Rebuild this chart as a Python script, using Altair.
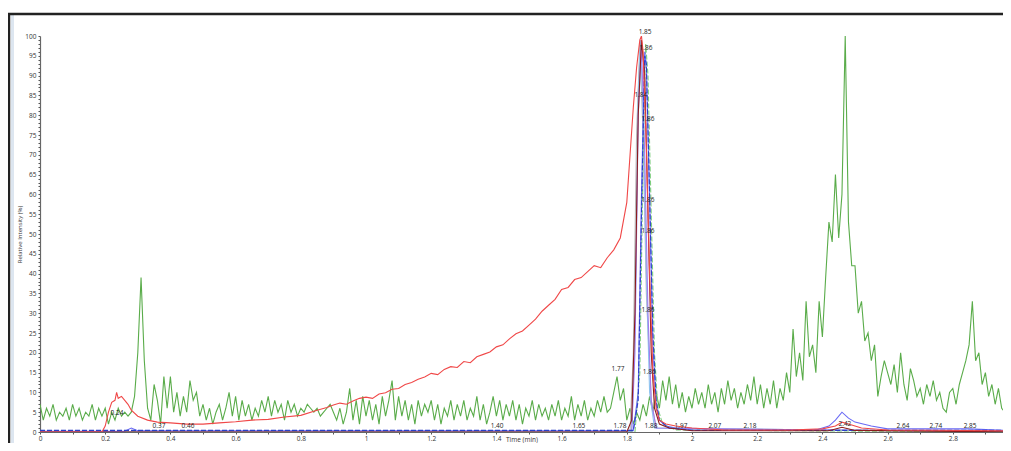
import altair as alt
import pandas as pd

# ---------------- data ----------------
# noisy green trace, sampled every 0.01 min from 0.00
green_y = [
    7, 3, 6, 4, 7, 3, 5, 4, 6, 3, 7, 4, 6, 3, 5, 4, 7, 3, 6, 4,      # 0.00-0.19
    6, 2, 5, 3, 6, 4, 5, 4, 5, 9, 20, 39, 18, 6, 3, 12, 8, 2, 14, 6,  # 0.20-0.39
    14, 5, 10, 4, 9, 5, 13, 8, 10, 4, 7, 3, 6, 2, 5, 7, 3, 6, 10, 4,  # 0.40-0.59
    9, 3, 8, 4, 7, 3, 6, 4, 8, 5, 9, 4, 8, 5, 7, 3, 8, 5, 7, 4,       # 0.60-0.79
    6, 5, 7, 6, 5, 6, 4, 5, 6, 7, 5, 3, 6, 2, 5, 11, 3, 8, 2, 9,      # 0.80-0.99
    4, 8, 3, 7, 2, 9, 4, 8, 13, 3, 9, 4, 8, 3, 7, 2, 8, 4, 7, 5,      # 1.00-1.19
    8, 3, 7, 2, 6, 4, 8, 3, 7, 4, 8, 3, 6, 4, 9, 3, 7, 2, 5, 9,       # 1.20-1.39
    4, 8, 3, 7, 4, 8, 3, 7, 2, 6, 4, 8, 3, 7, 4, 6, 3, 7, 4, 8,       # 1.40-1.59
    3, 6, 4, 9, 3, 7, 4, 8, 3, 6, 4, 8, 5, 9, 5, 6, 10, 14, 8, 11,    # 1.60-1.79
    3, 6, 2, 5, 3, 7, 4, 9, 5, 10, 6, 13, 8, 14, 7, 12, 6, 10, 5, 9,  # 1.80-1.99
    6, 11, 7, 10, 6, 12, 7, 10, 5, 11, 7, 13, 8, 11, 6, 10, 7, 12, 8, 14,   # 2.00-2.19
    7, 12, 6, 11, 7, 13, 6, 11, 8, 15, 10, 26, 14, 20, 13, 33, 19, 22, 15, 33,  # 2.20-2.39
    24, 39, 53, 48, 65, 49, 60, 100, 53, 42, 42, 30, 33, 23, 25, 18, 22, 9, 14, 18,  # 2.40-2.59
    15, 12, 17, 10, 20, 12, 8, 16, 13, 9, 11, 7, 12, 9, 13, 8, 10, 6, 5, 10,  # 2.60-2.79
    11, 7, 12, 15, 18, 22, 33, 18, 20, 12, 15, 9, 12, 7, 11, 6, 5, 6,  # 2.80-2.97
]
green_t = [round(i * 0.01, 2) for i in range(len(green_y))]

red_t = [0, 0.19, 0.20, 0.21, 0.22, 0.23, 0.235, 0.24, 0.25, 0.26, 0.27, 0.28, 0.30, 0.33,
         0.36, 0.40, 0.45, 0.50, 0.55, 0.60, 0.65, 0.70, 0.75, 0.80, 0.85, 0.88,
         0.90, 0.92, 0.94, 0.96, 0.98, 1.00, 1.02, 1.04, 1.06, 1.08, 1.10, 1.12, 1.14, 1.16,
         1.18, 1.20, 1.22, 1.24, 1.26, 1.28, 1.30, 1.32, 1.34, 1.36, 1.38, 1.40, 1.42, 1.44,
         1.46, 1.48, 1.50, 1.52, 1.54, 1.56, 1.58, 1.60, 1.62, 1.64, 1.66, 1.68, 1.70, 1.72,
         1.74, 1.76, 1.78, 1.80, 1.81, 1.82, 1.83, 1.84, 1.845, 1.85, 1.86,
         1.87, 1.88, 1.89, 1.90, 1.92, 1.95, 2.0, 2.1, 2.3, 2.4, 2.44, 2.46, 2.48, 2.52, 2.6, 2.98]
red_y = [0, 0, 1.5, 5, 7.5, 8, 10, 8.5, 9, 8, 7, 5.5, 4, 3,
         2.5, 2.3, 2.0, 2.0, 2.3, 2.6, 3, 3.2, 3.8, 4.2, 5.5, 6.2,
         6.8, 7.3, 7.0, 7.8, 8.5, 8.8, 8.5, 9.6, 9.9, 10.8, 11.0, 12.0, 12.5, 13.3,
         13.9, 14.8, 14.5, 15.8, 16.5, 16.3, 17.8, 17.5, 19.0, 19.6, 20.2, 21.5, 22.0, 23.5,
         24.8, 25.5, 27.0, 28.5, 30.5, 32.0, 33.5, 36.0, 36.5, 38.5, 39.0, 40.5, 42.0, 41.5,
         44.0, 46.0, 49.0, 58, 70, 82, 92, 99, 100, 96, 72,
         40, 15, 6, 3, 2, 1.5, 1, 0.5, 0.5, 0.8, 1.5, 2.5, 2.0, 1, 0.5, 0.3]

darkred_t = [0, 1.80, 1.815, 1.825, 1.835, 1.845, 1.855, 1.865, 1.875, 1.885, 1.90, 1.93, 2.0, 2.42, 2.46, 2.50, 2.98]
darkred_y = [0, 0, 3, 30, 80, 99, 90, 55, 20, 6, 2, 1, 0.3, 0.3, 1.2, 0.4, 0]

blue_t = [0, 0.26, 0.28, 0.30, 1.82, 1.835, 1.845, 1.855, 1.86, 1.87, 1.88, 1.89, 1.90, 1.92, 1.95, 2.0,
          2.38, 2.42, 2.44, 2.46, 2.48, 2.50, 2.55, 2.6, 2.7, 2.85, 2.98]
blue_y = [0.2, 0.2, 1, 0.3, 0.3, 10, 60, 96, 92, 58, 22, 7, 3, 1.5, 1, 0.5,
          0.5, 1.5, 3, 5, 3.5, 2.5, 1.5, 0.8, 0.8, 0.8, 0.3]

bluedash_t = [0, 1.82, 1.835, 1.845, 1.855, 1.86, 1.87, 1.88, 1.89, 1.90, 1.93, 2.0, 2.98]
bluedash_y = [0.4, 0.4, 8, 55, 95, 93, 60, 25, 8, 3, 1, 0.4, 0.4]

greendash_t = [0, 1.825, 1.84, 1.85, 1.858, 1.865, 1.875, 1.885, 1.895, 1.91, 1.95, 2.98]
greendash_y = [0, 0, 15, 70, 98, 90, 55, 20, 6, 2, 0.5, 0]

purple_t = [0, 1.815, 1.825, 1.835, 1.845, 1.855, 1.865, 1.875, 1.89, 2.98]
purple_y = [0, 0, 20, 80, 98, 70, 30, 8, 1, 0]

lightblue_t = [0, 1.815, 1.825, 1.835, 1.842, 1.85, 1.86, 1.87, 1.885, 2.98]
lightblue_y = [0, 0, 25, 85, 99, 80, 40, 10, 1, 0]

gray_t = [0, 1.81, 1.82, 1.83, 1.84, 1.85, 1.86, 1.875, 1.89, 2.98]
gray_y = [0, 0, 20, 75, 98, 75, 35, 8, 1, 0]

label_t = [1.856, 1.859, 1.843, 1.865, 1.865, 1.865, 1.865, 1.869, 1.773, 0.236, 0.365, 0.454,
           1.402, 1.653, 1.779, 1.874, 1.966, 2.070, 2.178, 2.469, 2.647, 2.748, 2.853]
label_y = [101, 97, 85, 79, 58.6, 50.8, 30.8, 15.2, 15.9, 4.8, 1.6, 1.6,
           1.6, 1.6, 1.6, 1.6, 1.6, 1.6, 1.6, 2.1, 1.6, 1.6, 1.6]
label_text = ["1.85", "1.86", "1.84", "1.86", "1.86", "1.86", "1.86", "1.86", "1.77", "0.24", "0.37", "0.46",
              "1.40", "1.65", "1.78", "1.88", "1.97", "2.07", "2.18", "2.42", "2.64", "2.74", "2.85"]

x_ticks = [round(i * 0.1, 1) for i in range(0, 30)]
y_ticks = list(range(0, 101))

# ---------------- chart ----------------
X_MAX = 2.954
xs = alt.Scale(domain=[0, X_MAX], nice=False, zero=False)
ys = alt.Scale(domain=[0, 100], nice=False)

x_axis = alt.Axis(
    values=x_ticks, title="Time (min)",
    labelExpr="round(datum.value*10) % 2 == 0 ? format(datum.value, '.1~f') : ''",
    labelFont="Open Sans", labelFontSize=6.5, labelColor="#333", labelPadding=1,
    titleFont="Open Sans", titleFontSize=6.5, titleFontWeight="normal", titleColor="#333",
    titleY=10.5, titleBaseline="bottom",
    tickSize=2, tickColor="#555", domainColor="#666", domainWidth=1.2,
    grid=False, labelFlush=False, labelOverlap=False,
)
y_axis = alt.Axis(
    values=y_ticks, title="Relative Intensity (%)",
    labelExpr="datum.value % 5 == 0 ? datum.value : ''",
    labelFont="Open Sans", labelFontSize=6.5, labelColor="#333", labelPadding=2,
    titleFont="Open Sans", titleFontSize=6, titleFontWeight="normal", titleColor="#333",
    titlePadding=2, tickSize=2, tickColor="#555", domainColor="#666", domainWidth=1.2,
    grid=False, labelOverlap=False, labelFlush=False,
)


def trace(t, y, color, dash=None, width=1.1):
    df = pd.DataFrame({"t": t, "v": y})
    kw = dict(color=color, strokeWidth=width, clip=True)
    if dash:
        kw["strokeDash"] = dash
    return alt.Chart(df).mark_line(**kw).encode(
        x=alt.X("t:Q", scale=xs, axis=x_axis),
        y=alt.Y("v:Q", scale=ys, axis=y_axis),
    )


layers = [
    trace(green_t, green_y, "#5aac4a"),
    trace(gray_t, gray_y, "#b8b8b8"),
    trace(lightblue_t, lightblue_y, "#8fc4f0"),
    trace(purple_t, purple_y, "#a27cf0"),
    trace(greendash_t, greendash_y, "#7fcf7f", dash=[5, 2]),
    trace(blue_t, blue_y, "#6a6af5"),
    trace(bluedash_t, bluedash_y, "#2a3fc8", dash=[5, 2]),
    trace(darkred_t, darkred_y, "#8b1c1c"),
    trace(red_t, red_y, "#f04848"),
]

labels_df = pd.DataFrame({"t": label_t, "v": label_y, "txt": label_text})
labels = alt.Chart(labels_df).mark_text(
    font="Open Sans", fontSize=6.5, color="#222", baseline="middle", align="center"
).encode(x=alt.X("t:Q", scale=xs, axis=x_axis), y=alt.Y("v:Q", scale=ys, axis=y_axis), text="txt:N")

# outer frame of the screenshot
frame_left = alt.Chart(pd.DataFrame({"k": [0]})).mark_rule(color="#222", strokeWidth=2.5).encode(
    x=alt.value(-31), y=alt.value(-22), y2=alt.value(420))
frame_inner = alt.Chart(pd.DataFrame({"k": [0]})).mark_rule(color="#dde6f0", strokeWidth=3).encode(
    x=alt.value(-27.5), y=alt.value(-21), y2=alt.value(420))
frame_top = alt.Chart(pd.DataFrame({"k": [0]})).mark_rule(color="#222", strokeWidth=2.5).encode(
    x=alt.value(-32), x2=alt.value(975), y=alt.value(-22))

chart = alt.layer(*layers, labels, frame_left, frame_inner, frame_top).properties(
    width=963, height=396,
    autosize=alt.AutoSizeParams(type="none"),
    padding={"left": 32, "top": 28, "right": 0, "bottom": 11},
    background="white",
).configure_view(stroke=None)

chart.save("out.html", embed_options={"renderer": "svg", "actions": False})
